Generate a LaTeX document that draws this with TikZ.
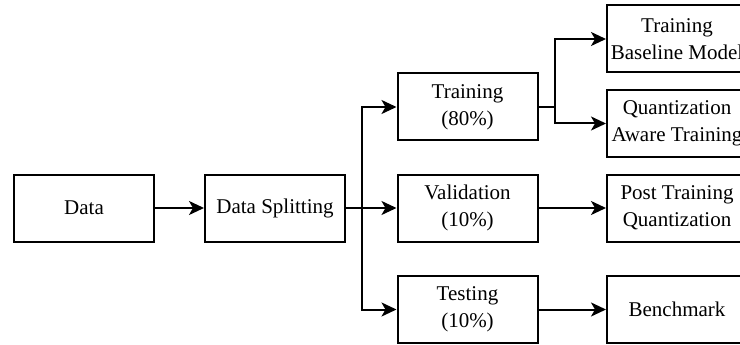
\documentclass[tikz,border=0pt]{standalone}
\usepackage{fontspec}
\setmainfont{Liberation Serif}
\usetikzlibrary{arrows.meta}
\begin{document}
\begin{tikzpicture}[x=1pt,y=-1pt,
  stepbox/.style={draw, line width=2pt, minimum width=140pt, minimum height=67pt,
    inner sep=0pt, align=center, font=\fontsize{21}{27}\selectfont},
  link/.style={line width=2pt, -{Stealth[length=15pt,width=14pt,inset=4pt]}},
  wire/.style={line width=2pt}]
\useasboundingbox (0,0) rectangle (740,345);
\begin{scope}
\clip (0,0) rectangle (740,345);
\node[stepbox] (data) at (84,208) {Data};
\node[stepbox] (split) at (275,208) {Data Splitting};
\node[stepbox] (train) at (467.5,107) {Training\\(80\%)};
\node[stepbox] (val) at (467.5,208) {Validation\\(10\%)};
\node[stepbox] (test) at (467.5,309.5) {Testing\\(10\%)};
\node[stepbox] (base) at (677,39) {Training\\Baseline Model};
\node[stepbox] (qat) at (677,123.5) {Quantization\\Aware Training};
\node[stepbox] (ptq) at (677,208) {Post Training\\Quantization};
\node[stepbox] (bench) at (677,309.5) {Benchmark};

\coordinate (fork) at (362,208);
\coordinate (tfork) at (555,107);

\draw[link] (data) -- (split);
\draw[wire] (split) -- (fork);
\draw[link] (fork) |- (train);
\draw[link] (fork) -- (val);
\draw[link] (fork) |- (test);
\draw[wire] (train) -- (tfork);
\draw[link] (tfork) |- (base);
\draw[link] (tfork) |- (qat);
\draw[link] (val) -- (ptq);
\draw[link] (test) -- (bench);
\end{scope}
\end{tikzpicture}
\end{document}
